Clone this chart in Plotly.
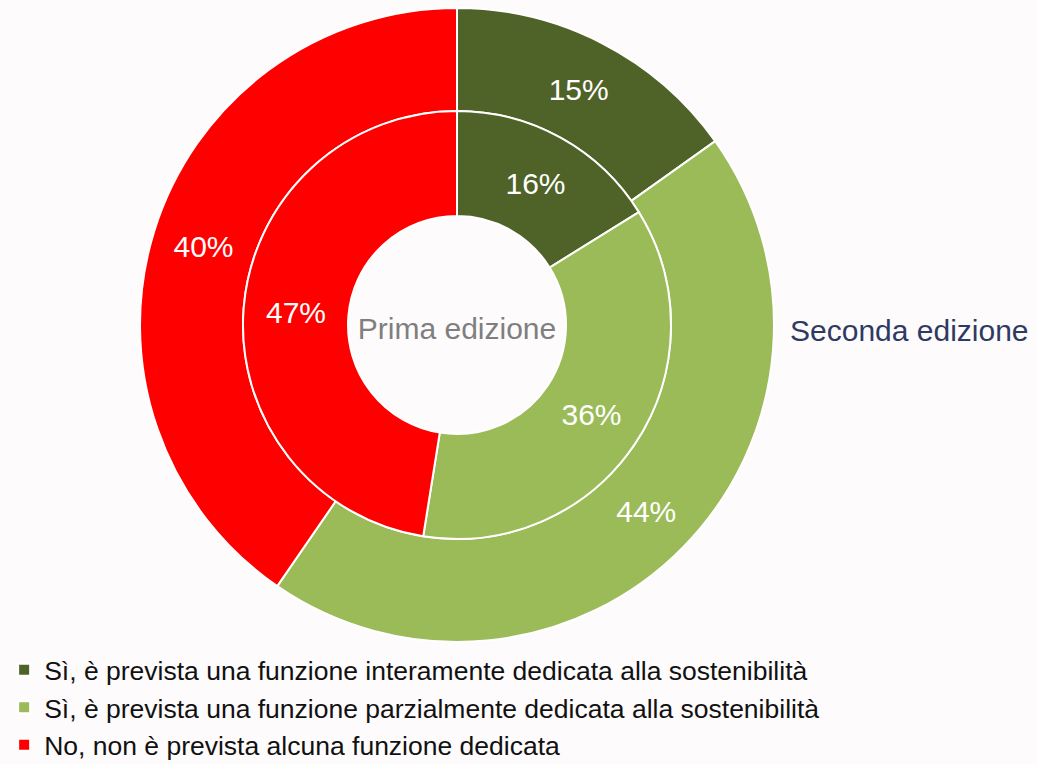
import plotly.graph_objects as go

categories = [
    "Sì, è prevista una funzione interamente dedicata alla sostenibilità",
    "Sì, è prevista una funzione parzialmente dedicata alla sostenibilità",
    "No, non è prevista alcuna funzione dedicata",
]
seconda_values = [15, 44, 40]
prima_values = [16, 36, 47]
colors = ["#4F6228", "#9BBB59", "#FF0000"]

W, H = 1037, 764
cx, cy = 457, 325
r_out, r_mid, r_in = 317, 214, 109
FONT = "Liberation Sans, Arial"

def dom(r):
    return dict(x=[(cx - r) / W, (cx + r) / W],
                y=[(H - cy - r) / H, (H - cy + r) / H])

fig = go.Figure()
fig.add_trace(go.Pie(
    labels=categories, values=seconda_values,
    text=[f"{v}%" for v in seconda_values], texttemplate="%{text}",
    textposition="inside", insidetextorientation="horizontal",
    textfont=dict(family=FONT, size=30, color="white"),
    marker=dict(colors=colors, line=dict(color="white", width=2)),
    hole=r_mid / r_out, sort=False, direction="clockwise", rotation=0,
    domain=dom(r_out), showlegend=True, name="Seconda edizione",
))
fig.add_trace(go.Pie(
    labels=categories, values=prima_values,
    text=[f"{v}%" for v in prima_values], texttemplate="%{text}",
    textposition="inside", insidetextorientation="horizontal",
    textfont=dict(family=FONT, size=30, color="white"),
    marker=dict(colors=colors, line=dict(color="white", width=2)),
    hole=r_in / r_mid, sort=False, direction="clockwise", rotation=0,
    domain=dom(r_mid), showlegend=False, name="Prima edizione",
    title=dict(text="Prima edizione", position="middle center",
               font=dict(family=FONT, size=30, color="#7F7F7F")),
))
fig.add_annotation(text="Seconda edizione", x=(cx + r_out + 14) / W, y=(H - 330) / H,
                   xref="paper", yref="paper", xanchor="left", yanchor="middle",
                   showarrow=False,
                   font=dict(family=FONT, size=30, color="#2F3A62"))
fig.update_layout(
    width=W, height=H,
    margin=dict(l=0, r=0, t=0, b=0, autoexpand=False),
    paper_bgcolor="#FEFBFC", plot_bgcolor="#FEFBFC",
    legend=dict(x=0.004, y=(H - 646) / H, xanchor="left", yanchor="top",
                orientation="v", traceorder="normal",
                font=dict(family=FONT, size=26.5, color="#111111"),
                bgcolor="rgba(0,0,0,0)", itemwidth=30),
)
fig.write_html("out.html", config={"displayModeBar": False},
               post_script="document.body.style.margin='0';document.body.style.background='#FEFBFC';")
